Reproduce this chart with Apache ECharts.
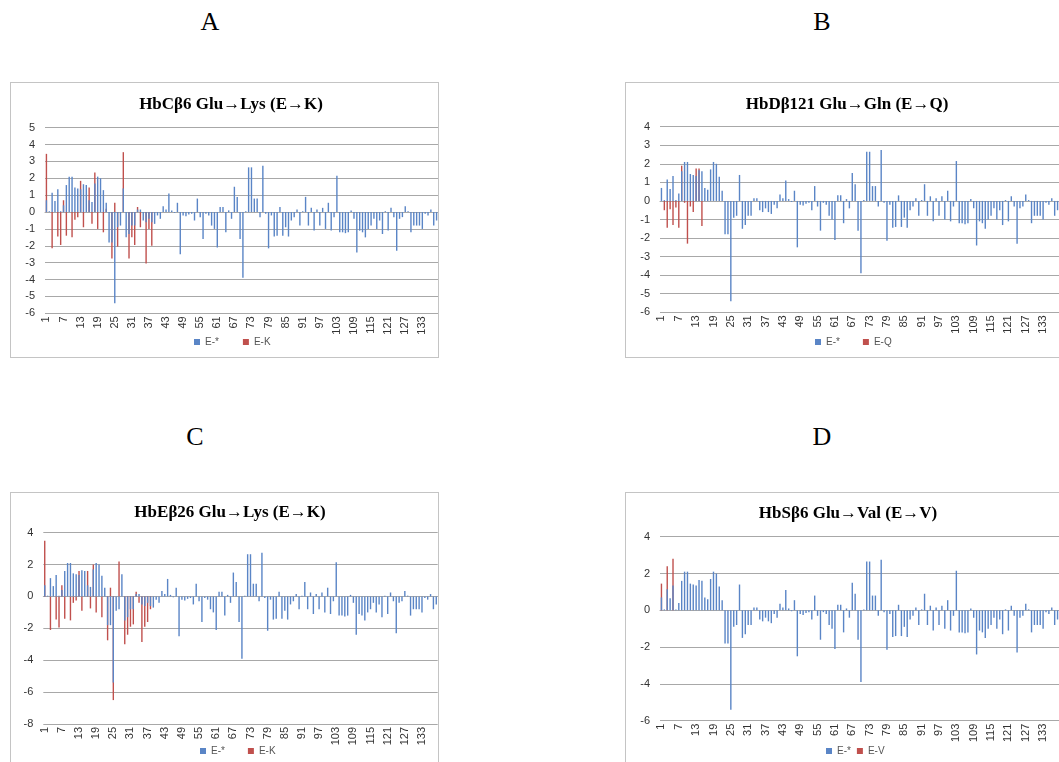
<!DOCTYPE html>
<html>
<head>
<meta charset="utf-8">
<script src="https://cdn.jsdelivr.net/npm/echarts@6/dist/echarts.min.js"></script>
<style>
  html, body { margin: 0; padding: 0; background: #fff; }
  body { position: relative; width: 1059px; height: 762px; overflow: hidden; }
  .letter {
    position: absolute;
    font-family: 'Liberation Serif', 'DejaVu Serif', serif;
    font-size: 26px;
    color: #000;
    transform: translate(-50%, -50%);
  }
  .panel { position: absolute; border: 1px solid #c4c4c4; box-sizing: border-box; }
</style>
</head>
<body>
<div class="letter" style="left:210px;top:22px">A</div>
<div class="letter" style="left:822px;top:22px">B</div>
<div class="letter" style="left:195px;top:437px">C</div>
<div class="letter" style="left:822px;top:437px">D</div>

<div id="panelA" class="panel" style="left:10px;top:82px;width:429px;height:276px"></div>
<div id="panelB" class="panel" style="left:625px;top:82px;width:440px;height:276px"></div>
<div id="panelC" class="panel" style="left:10px;top:492px;width:429px;height:280px"></div>
<div id="panelD" class="panel" style="left:625px;top:492px;width:440px;height:280px"></div>

<script>
// 残基编号 (x 轴类别)
const residues = Array.from({ length: 138 }, (_, i) => String(i + 1));

// E-* 系列 (四个图共用)
const eStar = [
  0.7, 0.05, 1.15, 0.65, 1.35, 0.05, 0.4, 1.6, 2.1, 2.1,
  1.45, 1.4, 1.35, 1.65, 1.6, 0.7, 0.6, 1.7, 2.1, 2.0,
  1.3, 0.55, -1.8, -1.8, -5.4, -0.9, -0.8, 1.4, -1.5, -1.3,
  -0.8, -0.8, 0.15, 0.15, -0.5, -0.6, -0.4, -0.6, -0.7, -0.2,
  -0.4, 0.35, 0.15, 1.1, 0.1, -0.05, 0.55, -2.5, -0.2, -0.25,
  -0.15, -0.1, -0.5, 0.8, -0.3, -1.6, -0.1, -0.2, -0.8, -1.0,
  -2.1, 0.3, 0.3, -1.2, 0.1, -0.4, 1.5, 0.9, -1.6, -3.9,
  0.05, 2.65, 2.65, 0.8, 0.8, -0.3, 2.75, -0.1, -2.15, -0.2,
  -1.45, -1.4, 0.3, -1.4, -0.9, -1.45, -0.5, -0.3, 0.15, -0.8,
  0.05, 0.9, -0.8, 0.25, -1.1, 0.15, -0.8, 0.25, -1.0, 0.55,
  -1.1, -0.3, 2.15, -1.2, -1.2, -1.25, -1.2, 0.1, -0.4, -2.4,
  -1.1, -1.2, -1.5, -1.0, -0.8, -0.4, -1.0, -0.5, -1.3, 0.05,
  -1.1, 0.25, -0.3, -2.3, -0.4, -0.3, 0.35, 0.05, -1.2, -0.8,
  -0.8, -0.8, -1.0, -0.1, -0.2, 0.15, -0.8, -0.5
];

// 突变系列 (只在前几个残基有值)
const hbcEK = [
  3.45, null, -2.15, null, -1.45, -1.95, 0.7, -1.4, null, -1.5,
  -0.45, -0.3, 1.85, -0.9, null, 1.45, -0.7, 2.35, -1.0, null,
  -1.2, 0.2, null, -2.75, 0.55, -2.05, null, 3.55, null, -2.75,
  -1.5, -1.95, 0.3, -0.9, null, -3.05, -1.0, -2.0
];
const hbdEQ = [
  null, -0.5, -1.45, -0.45, -1.3, -0.35, -1.45, 1.9, -0.1, -2.3,
  -0.3, -0.6, 1.75, 1.75, -1.35
];
const hbeEK = [
  3.5, null, -2.1, null, -1.45, -1.95, 0.7, -1.4, null, -1.5,
  -0.4, -0.25, 1.6, -0.9, null, 1.6, -0.75, 2.0, -1.0, null,
  -1.3, null, -2.75, 0.55, -6.5, null, 2.2, null, -3.0, -2.4,
  -1.9, -1.75, 0.3, -0.4, -2.85, -1.9, -1.6, -0.8
];
const hbsEV = [1.45, null, 2.4, null, 2.8];

const BLUE = '#5a85c6';
const RED = '#c0504d';
const GRID = '#a8a8a8';

function padSeries(vals) {
  return residues.map((_, i) => (i < vals.length ? vals[i] : null));
}

function createPanel(id, cfg) {
  const chart = echarts.init(document.getElementById(id));
  const option = {
    animation: false,
    graphic: [{
      type: 'text',
      x: cfg.titleX, y: cfg.titleY,
      style: {
        text: cfg.title,
        font: 'bold 17px "Liberation Serif", "DejaVu Serif", serif',
        fill: '#000',
        textAlign: 'center',
        textVerticalAlign: 'middle'
      }
    }],
    legend: {
      data: ['E-*', cfg.name],
      left: cfg.legendX, top: cfg.legendY,
      icon: 'rect', itemWidth: 6, itemHeight: 6, itemGap: cfg.legendGap,
      textStyle: { fontSize: 10, color: '#555', fontFamily: 'Liberation Sans' }
    },
    grid: {
      left: cfg.grid[0], top: cfg.grid[1], width: cfg.grid[2], height: cfg.grid[3],
      containLabel: false
    },
    xAxis: {
      type: 'category',
      data: residues,
      axisLine: { onZero: true, lineStyle: { color: GRID } },
      axisTick: { show: false },
      axisLabel: {
        interval: 5, rotate: 90, fontSize: 11, margin: 3,
        color: '#333', fontFamily: 'Liberation Sans'
      }
    },
    yAxis: {
      type: 'value',
      min: cfg.yMin, max: cfg.yMax, interval: cfg.yStep,
      axisLine: { show: false },
      axisTick: { show: false },
      splitLine: { lineStyle: { color: GRID, width: 1 } },
      axisLabel: { fontSize: 11, margin: 10, color: '#333', fontFamily: 'Liberation Sans' }
    },
    series: [
      {
        name: cfg.name, type: 'bar', data: padSeries(cfg.mut),
        itemStyle: { color: RED }, barWidth: 1.4, barGap: '-100%'
      },
      {
        name: 'E-*', type: 'bar', data: eStar,
        itemStyle: { color: BLUE }, barWidth: 1.4, barGap: '-100%'
      }
    ]
  };
  chart.setOption(option);
  return chart;
}

createPanel('panelA', {
  title: 'HbCβ6 Glu→Lys (E→K)', titleX: 220, titleY: 22,
  name: 'E-K', mut: hbcEK,
  grid: [34, 44.7, 393, 185.6], yMin: -6, yMax: 5, yStep: 1,
  legendX: 178, legendY: 249, legendGap: 24
});
createPanel('panelB', {
  title: 'HbDβ121 Glu→Gln (E→Q)', titleX: 221, titleY: 22,
  name: 'E-Q', mut: hbdEQ,
  grid: [34, 43.7, 399, 185.6], yMin: -6, yMax: 4, yStep: 1,
  legendX: 184, legendY: 249, legendGap: 23
});
createPanel('panelC', {
  title: 'HbEβ26 Glu→Lys (E→K)', titleX: 219, titleY: 20,
  name: 'E-K', mut: hbeEK,
  grid: [32.3, 39.7, 394.4, 191.3], yMin: -8, yMax: 4, yStep: 2,
  legendX: 184, legendY: 248, legendGap: 23
});
createPanel('panelD', {
  title: 'HbSβ6 Glu→Val (E→V)', titleX: 222, titleY: 21,
  name: 'E-V', mut: hbsEV,
  grid: [34, 43.7, 399, 184], yMin: -6, yMax: 4, yStep: 2,
  legendX: 195, legendY: 248, legendGap: 6
});
</script>
</body>
</html>
